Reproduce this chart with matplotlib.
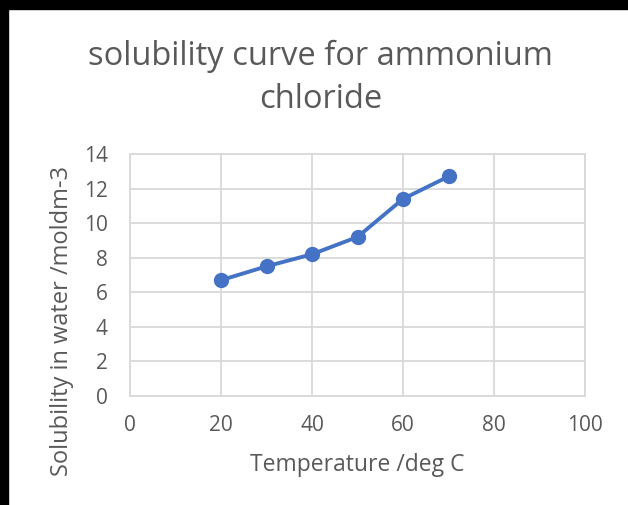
import matplotlib.pyplot as plt
from matplotlib.patches import Rectangle

# data
temperature = [20, 30, 40, 50, 60, 70]
solubility = [6.7, 7.5, 8.2, 9.2, 11.4, 12.7]
x_ticks = [0, 20, 40, 60, 80, 100]
y_ticks = [0, 2, 4, 6, 8, 10, 12, 14]

plt.rcParams['font.family'] = ['Open Sans', 'DejaVu Sans']
TEXT = "#595959"
GRID = "#d9d9d9"
BLUE = "#4472c4"

fig = plt.figure(figsize=(6.28, 5.05), dpi=100)
ax = fig.add_axes([130 / 628, 1 - 396 / 505, 455 / 628, 242 / 505])

ax.plot(temperature, solubility, color=BLUE, lw=2.8, marker="o", ms=10,
        zorder=3, clip_on=False)

ax.set_xlim(0, 100)
ax.set_ylim(0, 14)
ax.set_xticks(x_ticks)
ax.set_yticks(y_ticks)
ax.grid(True, color=GRID, lw=1.3)
ax.set_axisbelow(True)
for s in ax.spines.values():
    s.set_color(GRID)
    s.set_linewidth(1.3)
ax.tick_params(length=0, labelsize=15, labelcolor=TEXT)
ax.tick_params(axis="y", pad=16)
ax.tick_params(axis="x", pad=14)

ax.set_xlabel("Temperature /deg C", fontsize=16.5, color=TEXT, labelpad=12)
ax.set_ylabel("Solubility in water /moldm-3", fontsize=17, color=TEXT)
ax.yaxis.set_label_coords(-0.124, 0.31)
fig.text(0.51, 1 - 78 / 505, "solubility curve for ammonium\nchloride",
         ha="center", va="center", fontsize=23.5, color=TEXT, linespacing=1.38)

# black frame bits at top and left of the screenshot
fig.patches.append(Rectangle((0, 1 - 9 / 505), 1, 9 / 505, transform=fig.transFigure,
                             color="black", zorder=10))
fig.patches.append(Rectangle((0, 0), 8 / 628, 1, transform=fig.transFigure,
                             color="black", zorder=10))

fig.savefig("out.png", dpi=100)
